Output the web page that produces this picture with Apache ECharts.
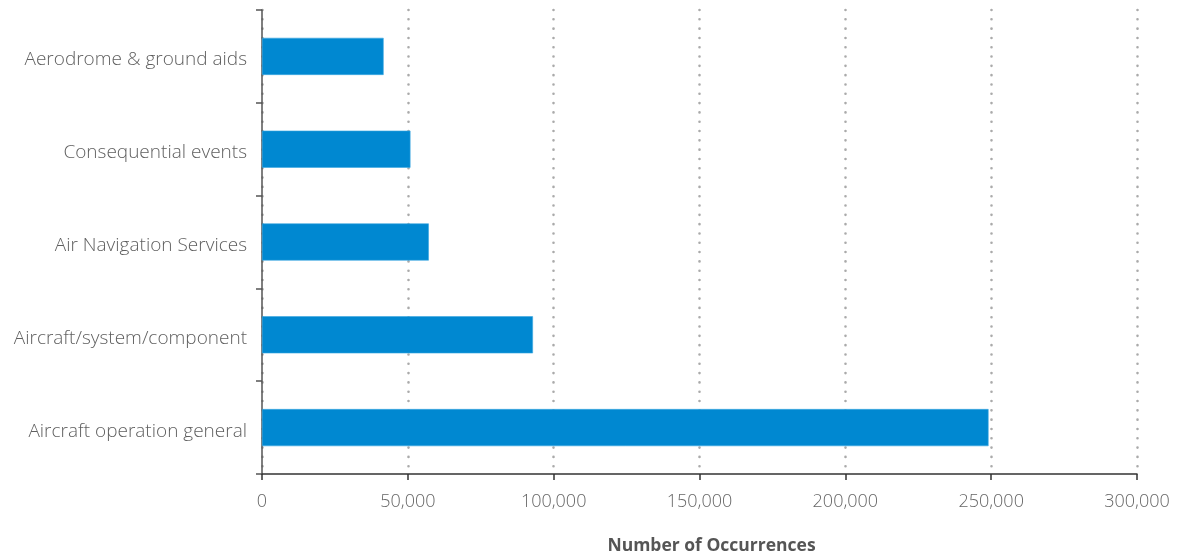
<!DOCTYPE html>
<html>
<head>
<meta charset="utf-8">
<script src="https://cdn.jsdelivr.net/npm/echarts@6/dist/echarts.min.js"></script>
<style>html,body{margin:0;padding:0;background:#fff;}#c{width:1177px;height:555px;}</style>
</head>
<body>
<div id="c"></div>
<script>
const categories = ["Aircraft operation general", "Aircraft/system/component", "Air Navigation Services", "Consequential events", "Aerodrome & ground aids"];
const occurrences = [249100, 92900, 57200, 50900, 41700];
const xTicks = { min: 0, max: 300000, interval: 50000 };
const xTitle = "Number of Occurrences";

const chart = echarts.init(document.getElementById('c'), null, { renderer: 'canvas' });
chart.setOption({
  animation: false,
  grid: { left: 262, right: 40, top: 10, bottom: 81, containLabel: false, outerBoundsMode: 'none' },
  xAxis: {
    type: 'value', min: xTicks.min, max: xTicks.max, interval: xTicks.interval,
    name: xTitle, nameLocation: 'middle', nameGap: 63,
    nameTextStyle: { fontFamily: 'Open Sans', fontWeight: 'bold', fontSize: 17.5, color: '#555', padding: [0, 0, 0, 24] },
    axisLine: { show: true, lineStyle: { color: '#333', width: 1.5 } },
    axisTick: { show: true, length: 6, lineStyle: { color: '#333', width: 1.5 } },
    axisLabel: { fontFamily: 'Open Sans', fontWeight: 300, fontSize: 18, color: '#666', margin: 19,
      formatter: v => v.toLocaleString('en-US') },
    splitLine: { show: true, lineStyle: { color: '#aaa', width: 2.6, type: [0.01, 9.3], cap: 'round' } }
  },
  yAxis: {
    type: 'category', data: categories,
    axisLine: { show: true, lineStyle: { color: '#555', width: 1.5 } },
    axisTick: { show: true, length: 6, alignWithLabel: false, lineStyle: { color: '#555', width: 1.5 } },
    axisLabel: { margin: 15, formatter: v => '{a|' + v + '}',
      rich: { a: { fontFamily: 'Open Sans', fontWeight: 300, fontSize: 19, color: '#5f5f5f', padding: [7, 0, 0, 0] } } },
    splitLine: { show: false }
  },
  series: [{
    type: 'bar', data: occurrences, barWidth: '40%',
    itemStyle: { color: '#0088d1', borderColor: '#3aa7e0', borderWidth: 0.6 }
  }]
});
</script>
</body>
</html>
